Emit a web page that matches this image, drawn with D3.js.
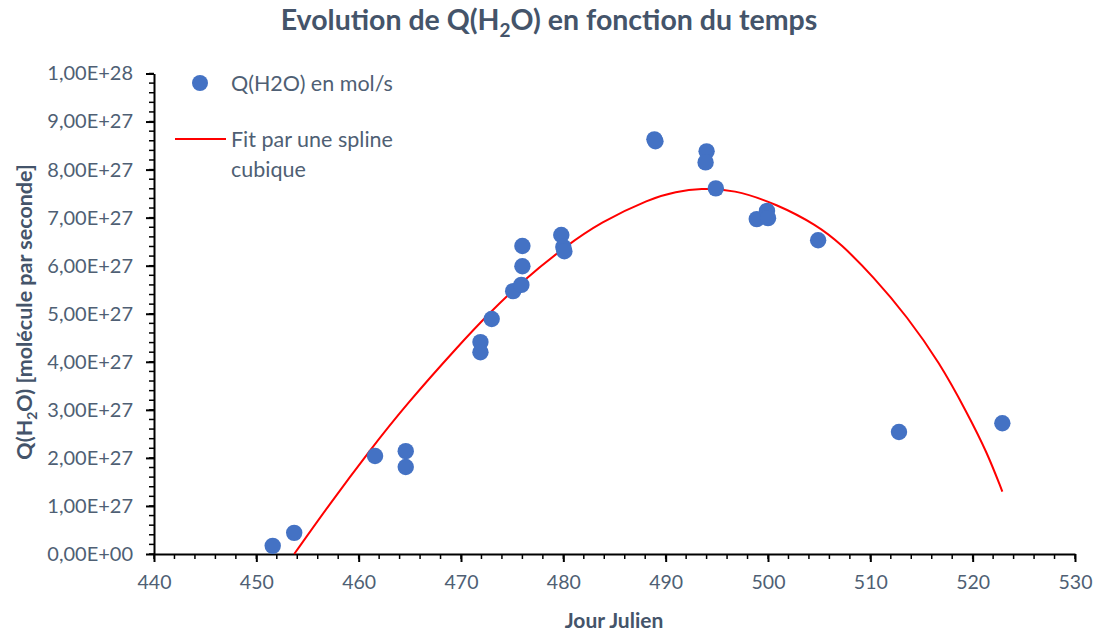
<!DOCTYPE html>
<html>
<head>
<meta charset="utf-8">
<script src="https://cdn.jsdelivr.net/npm/d3@7"></script>
<style>
  html, body { margin: 0; padding: 0; background: #fff; }
  svg { display: block; }
</style>
</head>
<body>
<svg id="chart" width="1099" height="634"></svg>
<script>
// ---- Data ----
const jourJulien = [451.6, 453.7, 461.6, 464.6, 464.6, 471.9, 471.9, 473.0, 475.1, 475.9, 476.0, 476.0,
  479.8, 480.0, 480.1, 488.9, 489.0, 494.0, 493.9, 494.9, 498.9, 499.9, 500.0, 504.9, 512.8, 522.9];
const qH2O = [0.17e27, 0.44e27, 2.04e27, 2.14e27, 1.81e27, 4.41e27, 4.20e27, 4.89e27, 5.47e27, 5.60e27, 5.99e27, 6.41e27,
  6.64e27, 6.39e27, 6.30e27, 8.63e27, 8.59e27, 8.38e27, 8.15e27, 7.61e27, 6.97e27, 7.14e27, 6.99e27, 6.53e27, 2.54e27, 2.72e27];

const fitX = [453.7, 457.2, 461.1, 464.6, 469.9, 472.8, 476.1, 480.2, 483.6, 488.5, 491.0, 493.4, 496.6,
  500.9, 504.8, 507.1, 510.3, 513.6, 516.8, 519.4, 521.4, 522.9];
const fitY = [0.00e27, 1.05e27, 2.16e27, 3.10e27, 4.37e27, 5.02e27, 5.70e27, 6.40e27, 6.90e27, 7.40e27, 7.54e27, 7.61e27, 7.59e27,
  7.28e27, 6.84e27, 6.46e27, 5.77e27, 4.94e27, 3.97e27, 2.96e27, 2.12e27, 1.30e27];

const xTicks = [440, 450, 460, 470, 480, 490, 500, 510, 520, 530];
const yTicks = [0, 1e27, 2e27, 3e27, 4e27, 5e27, 6e27, 7e27, 8e27, 9e27, 1e28];
const yTickLabels = ["0,00E+00", "1,00E+27", "2,00E+27", "3,00E+27", "4,00E+27", "5,00E+27",
  "6,00E+27", "7,00E+27", "8,00E+27", "9,00E+27", "1,00E+28"];
const xMinor = d3.range(440, 531, 2);
const yMinor = d3.range(0, 51).map(i => i * 2e26);

const seriesName = "Q(H2O) en mol/s";
const fitNameLines = ["Fit par une spline", "cubique"];

// ---- Layout ----
const svg = d3.select("#chart");
const mLeft = 154, mRight = 1075, mTop = 73.5, mBottom = 554;
const textCol = "#44546A";
const tickCol = "#4F5F74";
const font = "Lato, 'Open Sans', sans-serif";

const x = d3.scaleLinear().domain([440, 530]).range([mLeft, mRight]);
const y = d3.scaleLinear().domain([0, 1e28]).range([mBottom, mTop]);

// Title
const title = svg.append("text")
  .attr("x", 549).attr("y", 30)
  .attr("text-anchor", "middle")
  .attr("font-family", font).attr("font-weight", "bold")
  .attr("font-size", 28.5).attr("fill", textCol);
title.append("tspan").text("Evolution de Q(H");
title.append("tspan").text("2").attr("font-size", 19).attr("dy", 7);
title.append("tspan").text("O) en fonction du temps").attr("dy", -7);

// Minor ticks
svg.append("g").selectAll("line").data(xMinor).join("line")
  .attr("x1", d => x(d)).attr("x2", d => x(d))
  .attr("y1", mBottom).attr("y2", mBottom + 5)
  .attr("stroke", "#000").attr("stroke-width", 1.5);
svg.append("g").selectAll("line").data(yMinor).join("line")
  .attr("y1", d => y(d)).attr("y2", d => y(d))
  .attr("x1", mLeft).attr("x2", mLeft - 5)
  .attr("stroke", "#000").attr("stroke-width", 1.5);

// Major axes
const xAxis = d3.axisBottom(x).tickValues(xTicks).tickSize(8).tickSizeOuter(0).tickPadding(13)
  .tickFormat(d3.format("d"));
const gx = svg.append("g").attr("transform", `translate(0,${mBottom})`).call(xAxis);
gx.select(".domain").attr("stroke", "#000").attr("stroke-width", 2);
gx.selectAll(".tick line").attr("stroke", "#000").attr("stroke-width", 2);
gx.selectAll(".tick text").attr("font-family", font).attr("font-size", 19.5).attr("fill", tickCol);

const yAxis = d3.axisLeft(y).tickValues(yTicks).tickSize(8).tickSizeOuter(0).tickPadding(13)
  .tickFormat((d, i) => yTickLabels[i]);
const gy = svg.append("g").attr("transform", `translate(${mLeft},0)`).call(yAxis);
gy.select(".domain").attr("stroke", "#000").attr("stroke-width", 2);
gy.selectAll(".tick line").attr("stroke", "#000").attr("stroke-width", 2);
gy.selectAll(".tick text").attr("font-family", font).attr("font-size", 20).attr("fill", tickCol);

// Axis titles
svg.append("text")
  .attr("x", 614).attr("y", 628).attr("text-anchor", "middle")
  .attr("font-family", font).attr("font-weight", "bold").attr("font-size", 21)
  .attr("fill", textCol).text("Jour Julien");

const yt = svg.append("text")
  .attr("transform", "translate(32,312) rotate(-90)")
  .attr("text-anchor", "middle")
  .attr("font-family", font).attr("font-weight", "bold").attr("font-size", 21.5)
  .attr("fill", textCol);
yt.append("tspan").text("Q(H");
yt.append("tspan").text("2").attr("font-size", 14).attr("dy", 5);
yt.append("tspan").text("O) [molécule par seconde]").attr("dy", -5);

// Fit curve
const line = d3.line().x(d => x(d[0])).y(d => y(d[1])).curve(d3.curveBasis);
svg.append("path")
  .datum(fitX.map((d, i) => [d, fitY[i]]))
  .attr("d", line)
  .attr("fill", "none").attr("stroke", "#FF0000").attr("stroke-width", 2);

// Points
svg.append("g").selectAll("circle").data(jourJulien.map((d, i) => [d, qH2O[i]])).join("circle")
  .attr("cx", d => x(d[0])).attr("cy", d => y(d[1])).attr("r", 8.2)
  .attr("fill", "#4472C4");

// Legend
svg.append("circle").attr("cx", 200).attr("cy", 83).attr("r", 8).attr("fill", "#4472C4");
svg.append("text").attr("x", 231).attr("y", 90.5)
  .attr("font-family", font).attr("font-size", 21.5).attr("fill", tickCol).text(seriesName);
svg.append("line").attr("x1", 175).attr("x2", 226).attr("y1", 139).attr("y2", 139)
  .attr("stroke", "#FF0000").attr("stroke-width", 2);
svg.append("g").selectAll("text").data(fitNameLines).join("text")
  .attr("x", 231).attr("y", (d, i) => 146.5 + i * 30)
  .attr("font-family", font).attr("font-size", 21.5).attr("fill", tickCol).text(d => d);
</script>
</body>
</html>
